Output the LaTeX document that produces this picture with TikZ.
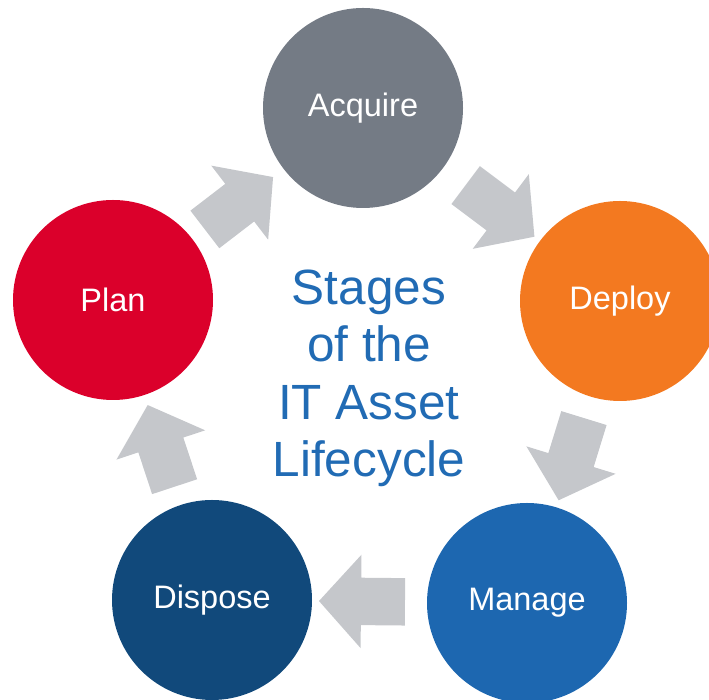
\documentclass[tikz,border=0pt]{standalone}
\usepackage{fontspec}
\setmainfont{Liberation Sans}
\usetikzlibrary{shapes.arrows}

\definecolor{acquiregray}{RGB}{116,123,133}
\definecolor{deployorange}{RGB}{243,121,32}
\definecolor{planred}{RGB}{219,0,43}
\definecolor{disposenavy}{RGB}{17,73,123}
\definecolor{manageblue}{RGB}{29,103,176}
\definecolor{arrowgray}{RGB}{197,199,203}
\definecolor{titleblue}{RGB}{33,107,180}

\begin{document}
\begin{tikzpicture}[
        x=1pt, y=1pt,
        stage/.style={circle, minimum size=200pt, inner sep=0pt, text=white,
            font=\fontsize{32.5}{38}\selectfont},
        flow/.style={single arrow, fill=arrowgray, inner xsep=0pt, inner ysep=23.5pt,
            minimum height=86pt, single arrow head extend=23pt,
            single arrow tip angle=96, sloped, allow upside down}]

        \useasboundingbox (0,0) rectangle (709,700);

        \node[stage, fill=acquiregray]  (acquire) at (363,592) {Acquire};
        \node[stage, fill=deployorange] (deploy)  at (620,399) {Deploy};
        \node[stage, fill=manageblue]   (manage)  at (527,97)  {Manage};
        \node[stage, fill=disposenavy]  (dispose) at (212,100) {Dispose};
        \node[stage, fill=planred]      (plan)    at (113,400) {Plan};

        \node[align=center, text=titleblue, font=\fontsize{49.5}{57.5}\selectfont]
            (lifecycle) at (369,321.5) {Stages\\of the\\IT Asset\\Lifecycle};

        % block arrows between the stages
        \path (plan.center) to node[flow, pos=.47] {} (acquire.center);
        \path (acquire.center) to node[flow, pos=.50] {} (deploy.center);
        \path (deploy.center) to node[flow, pos=.49] {} (manage.center);
        \path (manage.center) to node[flow, pos=.49] {} (dispose.center);
        \path (dispose.center) to node[flow, pos=.48] {} (plan.center);

    \end{tikzpicture}
\end{document}
